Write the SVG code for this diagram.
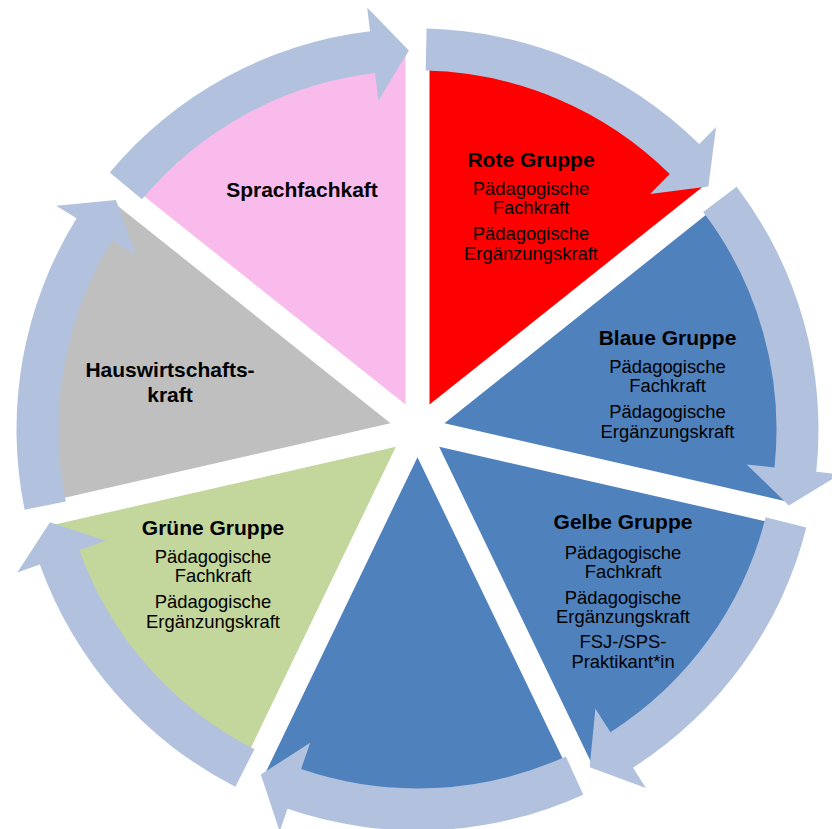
<svg xmlns="http://www.w3.org/2000/svg" width="832" height="829" viewBox="0 0 832 829">
<style>
.t{font-family:"Liberation Sans",Arial,sans-serif;font-weight:bold;font-size:21px;fill:#000;text-anchor:middle}
.s{font-family:"Liberation Sans",Arial,sans-serif;font-size:18.4px;fill:#000;text-anchor:middle}
.arr{fill:#B2C2DE}
</style>
<defs>
<path id="wedge" d="M12,-24.918 L12,-374.81 A375,375 0 0 1 285.556,-243.070 Z"/>
<path id="arrow" d="M9.097,-400.897 A401,401 0 0 1 281.719,-285.381 L298.580,-302.461 L290.878,-242.965 L232.541,-235.564 L252.212,-255.491 A359,359 0 0 0 8.145,-358.908 Z"/>
</defs>
<rect width="832" height="829" fill="#fff"/>
<g id="rote-gruppe">
<use href="#wedge" transform="translate(417.5 429.5) rotate(0)" fill="#FF0000"/>
<text class="t" x="531" y="167">Rote Gruppe</text>
<text class="s" x="531" y="195">Pädagogische</text>
<text class="s" x="531" y="214">Fachkraft</text>
<text class="s" x="531" y="240">Pädagogische</text>
<text class="s" x="531" y="260">Ergänzungskraft</text>
</g>
<g id="blaue-gruppe">
<use href="#wedge" transform="translate(417.5 429.5) rotate(51.4286)" fill="#4F81BD"/>
<text class="t" x="667.5" y="344.5">Blaue Gruppe</text>
<text class="s" x="667.5" y="373">Pädagogische</text>
<text class="s" x="667.5" y="392">Fachkraft</text>
<text class="s" x="667.5" y="418">Pädagogische</text>
<text class="s" x="667.5" y="437.5">Ergänzungskraft</text>
</g>
<g id="gelbe-gruppe">
<use href="#wedge" transform="translate(417.5 429.5) rotate(102.8571)" fill="#4F81BD"/>
<text class="t" x="623" y="529">Gelbe Gruppe</text>
<text class="s" x="623" y="559">Pädagogische</text>
<text class="s" x="623" y="578">Fachkraft</text>
<text class="s" x="623" y="604">Pädagogische</text>
<text class="s" x="623" y="623">Ergänzungskraft</text>
<text class="s" x="623" y="648">FSJ-/SPS-</text>
<text class="s" x="623" y="668">Praktikant*in</text>
</g>
<g id="leer">
<use href="#wedge" transform="translate(417.5 429.5) rotate(154.2857)" fill="#4F81BD"/>
</g>
<g id="gruene-gruppe">
<use href="#wedge" transform="translate(417.5 429.5) rotate(205.7143)" fill="#C3D69B"/>
<text class="t" x="213" y="534.5">Grüne Gruppe</text>
<text class="s" x="213" y="563">Pädagogische</text>
<text class="s" x="213" y="582">Fachkraft</text>
<text class="s" x="213" y="608">Pädagogische</text>
<text class="s" x="213" y="627.5">Ergänzungskraft</text>
</g>
<g id="hauswirtschaft">
<use href="#wedge" transform="translate(417.5 429.5) rotate(257.1429)" fill="#BFBFBF"/>
<text class="t" x="170" y="377">Hauswirtschafts-</text>
<text class="t" x="170" y="402">kraft</text>
</g>
<g id="sprachfachkraft">
<use href="#wedge" transform="translate(417.5 429.5) rotate(308.5714)" fill="#F9BBEC"/>
<text class="t" x="302" y="196.5">Sprachfachkaft</text>
</g>
<g id="connectors" class="arr">
<use href="#arrow" transform="translate(417.5 429.5) rotate(0)"/>
<use href="#arrow" transform="translate(417.5 429.5) rotate(51.4286)"/>
<use href="#arrow" transform="translate(417.5 429.5) rotate(102.8571)"/>
<use href="#arrow" transform="translate(417.5 429.5) rotate(154.2857)"/>
<use href="#arrow" transform="translate(417.5 429.5) rotate(205.7143)"/>
<use href="#arrow" transform="translate(417.5 429.5) rotate(257.1429)"/>
<use href="#arrow" transform="translate(417.5 429.5) rotate(308.5714)"/>
</g>
</svg>
